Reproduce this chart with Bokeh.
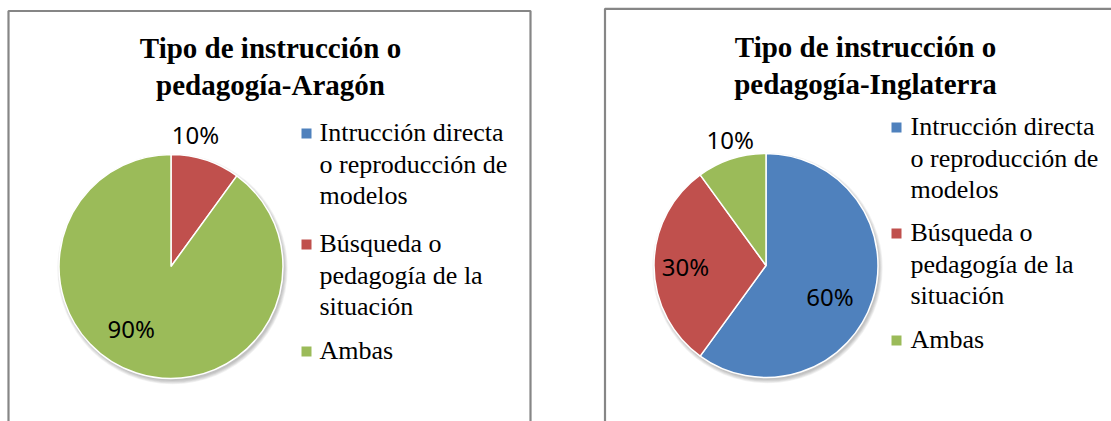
import math
from bokeh.plotting import figure
from bokeh.models import Range1d
from bokeh.core.properties import value
from bokeh.embed import file_html
from bokeh.resources import INLINE

# ---------------- data ----------------
categories = ["Intrucción directa o reproducción de modelos",
              "Búsqueda o pedagogía de la situación",
              "Ambas"]
legend_lines = [["Intrucción directa", "o reproducción de", "modelos"],
                ["Búsqueda o", "pedagogía de la", "situación"],
                ["Ambas"]]
aragon = [0, 10, 90]
inglaterra = [60, 30, 10]
colors = ["#4F81BD", "#C0504D", "#9BBB59"]
title_aragon = ["Tipo de instrucción o", "pedagogía-Aragón"]
title_inglaterra = ["Tipo de instrucción o", "pedagogía-Inglaterra"]

# ---------------- layout ----------------
W, H = 1111, 421
p = figure(width=W, height=H, output_backend="svg", toolbar_location=None,
           x_range=Range1d(0, W), y_range=Range1d(0, H),
           min_border=0)
p.axis.visible = False
p.grid.visible = False
p.outline_line_color = None
p.background_fill_color = "white"
p.border_fill_color = "white"


def Y(sy):
    return H - sy


SERIF = value("Liberation Serif")
SANS = value("Noto Sans")
BORDER = "#868686"

panels = [
    dict(vals=aragon, title=title_aragon, cx=170.5, cy=266, r=112,
         title_x=270, title_base=[47, 84],
         border=dict(x0=8, x1=530, y0=10.5),
         leg_sq_x=306, leg_txt_x=319, leg_base=[132, 243, 350],
         lab=[(0, 0.7), (-7.4, 1.19), (14, 0.67)]),
    dict(vals=inglaterra, title=title_inglaterra, cx=765.5, cy=265, r=112,
         title_x=865, title_base=[46, 83],
         border=dict(x0=604.5, x1=1200, y0=8.3),
         leg_sq_x=896, leg_txt_x=910, leg_base=[126, 232, 339],
         lab=[(8.7, 0.64), (-2, 0.72), (2, 1.16)]),
]

LINE_SP = 31.5
for pn in panels:
    b = pn["border"]
    p.line([b["x0"], b["x0"], b["x1"], b["x1"]],
           [Y(440), Y(b["y0"]), Y(b["y0"]), Y(440)],
           line_color=BORDER, line_width=2.2)

    for line, base in zip(pn["title"], pn["title_base"]):
        p.text(x=[pn["title_x"]], y=[Y(base)], text=[line], text_font=SERIF,
               text_font_style="bold", text_font_size="29px",
               text_align="center", text_baseline="alphabetic", text_color="black")

    cx, cy, r = pn["cx"], Y(pn["cy"]), pn["r"]
    for k in range(5):
        p.circle(x=[cx + 1.5], y=[cy - 2.5], radius=r + 0.8 * k,
                 radius_units="screen", fill_color="black", fill_alpha=0.05,
                 line_color=None)

    total = float(sum(pn["vals"]))
    cum = 0.0
    for i, v in enumerate(pn["vals"]):
        if v <= 0:
            continue
        a0 = math.pi / 2 - 2 * math.pi * cum / total
        a1 = math.pi / 2 - 2 * math.pi * (cum + v) / total
        p.wedge(x=[cx], y=[cy], radius=r, radius_units="screen",
                start_angle=a0, end_angle=a1, direction="clock",
                fill_color=colors[i], line_color="white", line_width=1.5)
        mid = 360.0 * (cum + v / 2.0) / total
        tweak, rf = pn["lab"][i]
        th = math.radians(mid + tweak)
        lx = cx + rf * r * math.sin(th)
        ly = cy + rf * r * math.cos(th)
        fs = 24
        p.text(x=[lx], y=[ly + 0.06 * fs], text=[f"{v:.0f}%"], text_font=SANS,
               text_font_size=f"{fs}px", text_align="center",
               text_baseline="alphabetic", text_color="black")
        cum += v

    for i, lines in enumerate(legend_lines):
        base0 = pn["leg_base"][i]
        p.rect(x=[pn["leg_sq_x"]], y=[Y(base0 + 1)], width=10, height=10,
               width_units="screen", height_units="screen",
               fill_color=colors[i], line_color=None)
        for j, ln in enumerate(lines):
            p.text(x=[pn["leg_txt_x"]], y=[Y(base0 + j * LINE_SP)], text=[ln],
                   text_font=SERIF, text_font_size="26px", text_align="left",
                   text_baseline="alphabetic", text_color="black")

open("out.html", "w").write(file_html(p, INLINE))
